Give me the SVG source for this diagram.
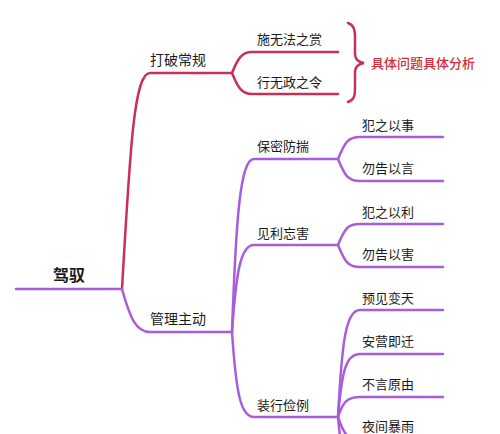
<svg xmlns="http://www.w3.org/2000/svg" width="500" height="434" viewBox="0 0 500 434">
<style>
text{font-family:"Noto Sans CJK SC","Noto Sans",sans-serif;fill:#1a1a1a}
.red{fill:none;stroke:#c8305a;stroke-width:2.5;stroke-linecap:round}
.pur{fill:none;stroke:#a85ddc;stroke-width:2.5;stroke-linecap:round}
.t1{font-size:16px;font-weight:bold}
.t2{font-size:14px}
.t3{font-size:13px}
.note{font-size:13px;fill:#d42d3c;font-weight:500}
</style>
<rect width="500" height="434" fill="#fff"/>
<g id="connectors">
<path class="pur" d="M16,289 L122,289"/>
<path class="red" d="M122,289 C130,150 134,73 150,73 L232,73"/>
<path class="red" d="M232,73 C238,58 242,52 252,52 L338,52"/>
<path class="red" d="M232,73 C238,88 242,94 252,94 L338,94"/>
<path class="red" d="M348,23 C354,25 355,30 355,38 L355,54 C355,59 358,62 364,63 C358,64 355,67 355,72 L355,88 C355,96 354,100 348,102"/>
<path class="pur" d="M122,289 C130,318 136,332 150,332 L232,332"/>
<path class="pur" d="M232,332 C236,220 240,159 254,159 L338,159"/>
<path class="pur" d="M232,332 C236,275 240,245 254,245 L338,245"/>
<path class="pur" d="M232,332 C236,390 240,417 254,417 L338,417"/>
<path class="pur" d="M338,159 C345,142 348,137 360,137 L443,137"/>
<path class="pur" d="M338,159 C345,176 348,181 360,181 L443,181"/>
<path class="pur" d="M338,245 C345,228 348,224 360,224 L443,224"/>
<path class="pur" d="M338,245 C345,262 348,267 360,267 L443,267"/>
<path class="pur" d="M338,417 C342,340 346,310 360,310 L443,310"/>
<path class="pur" d="M338,417 C342,370 346,354 360,354 L443,354"/>
<path class="pur" d="M338,417 C343,402 347,397 360,397 L443,397"/>
<path class="pur" d="M338,417 C343,432 347,440 360,440 L443,440"/>
<path class="pur" d="M338,417 C342,460 346,483 360,483 L443,483"/>
</g>
<g id="root"><text class="t1" x="53" y="281">驾驭</text></g>
<g id="n-dapo"><text class="t2" x="150" y="65">打破常规</text></g>
<g id="n-shi"><text class="t3" x="257" y="44">施无法之赏</text></g>
<g id="n-xing"><text class="t3" x="257" y="87">行无政之令</text></g>
<g id="n-note"><text class="note" x="371" y="68">具体问题具体分析</text></g>
<g id="n-guanli"><text class="t2" x="150" y="324">管理主动</text></g>
<g id="n-baomi"><text class="t3" x="257" y="151">保密防揣</text></g>
<g id="n-jianli"><text class="t3" x="257" y="238">见利忘害</text></g>
<g id="n-zhuang"><text class="t3" x="257" y="410">装行俭例</text></g>
<g id="l1"><text class="t3" x="362" y="130">犯之以事</text></g>
<g id="l2"><text class="t3" x="362" y="173">勿告以言</text></g>
<g id="l3"><text class="t3" x="362" y="217">犯之以利</text></g>
<g id="l4"><text class="t3" x="362" y="259">勿告以害</text></g>
<g id="l5"><text class="t3" x="362" y="303">预见变天</text></g>
<g id="l6"><text class="t3" x="362" y="346">安营即迁</text></g>
<g id="l7"><text class="t3" x="362" y="389">不言原由</text></g>
<g id="l8"><text class="t3" x="362" y="431">夜间暴雨</text></g>
</svg>
